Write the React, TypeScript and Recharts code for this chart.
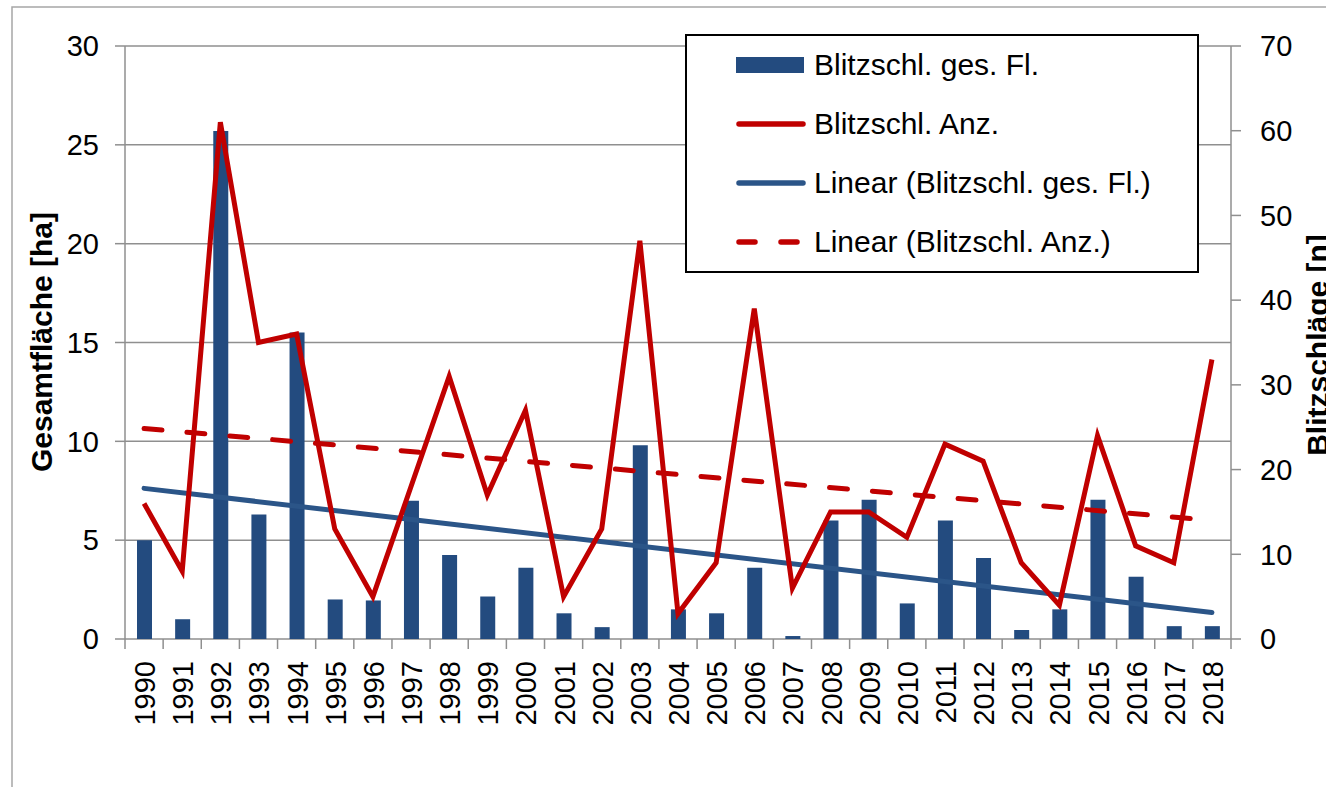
import {
  ComposedChart,
  Bar,
  Line,
  XAxis,
  YAxis,
  CartesianGrid,
  Legend,
} from "recharts";

const years = [
  "1990", "1991", "1992", "1993", "1994", "1995", "1996", "1997", "1998", "1999",
  "2000", "2001", "2002", "2003", "2004", "2005", "2006", "2007", "2008", "2009",
  "2010", "2011", "2012", "2013", "2014", "2015", "2016", "2017", "2018",
];

// Blitzschlag – Gesamtfläche [ha]
const flaeche = [
  5.0, 1.0, 25.7, 6.3, 15.5, 2.0, 1.95, 7.0, 4.25, 2.15,
  3.6, 1.3, 0.6, 9.8, 1.5, 1.3, 3.6, 0.15, 6.0, 7.05,
  1.8, 6.0, 4.1, 0.45, 1.5, 7.05, 3.15, 0.65, 0.65,
];

// Blitzschlag – Anzahl [n]
const anzahl = [
  16, 8, 61, 35, 36, 13, 5, 18, 31, 17,
  27, 5, 13, 47, 3, 9, 39, 6, 15, 15,
  12, 23, 21, 9, 4, 24, 11, 9, 33,
];

// Trendlinien: Endpunkte 1990 / 2018
const trendFlaeche = [7.62, 1.34];
const trendAnzahl = [24.84, 14.0];

const leftTicks = [0, 5, 10, 15, 20, 25, 30];
const rightTicks = [0, 10, 20, 30, 40, 50, 60, 70];

const legendItems = [
  { label: "Blitzschl. ges. Fl.", kind: "bar", color: "#234b7f" },
  { label: "Blitzschl. Anz.", kind: "line", color: "#c00000" },
  { label: "Linear (Blitzschl. ges. Fl.)", kind: "line", color: "#2b5588" },
  { label: "Linear (Blitzschl. Anz.)", kind: "dash", color: "#c00000" },
];

const last = years.length - 1;
const data = years.map((year, i) => ({
  year,
  fl: flaeche[i],
  anz: anzahl[i],
  trendFl: i === 0 ? trendFlaeche[0] : i === last ? trendFlaeche[1] : null,
  trendAnz: i === 0 ? trendAnzahl[0] : i === last ? trendAnzahl[1] : null,
}));

const FONT = "'Liberation Sans', Arial, sans-serif";
const GRID = "#8f8f8f";
const BAND = (1231 - 125) / years.length;

function YearTick(props: any) {
  const { x, y, payload } = props;
  const edge = x - BAND / 2;
  const tx = x + 11;
  const ty = y + 22;
  return (
    <g>
      <line x1={edge} y1={y} x2={edge} y2={y + 10} stroke={GRID} strokeWidth={1.5} />
      {payload.value === years[last] && (
        <line x1={x + BAND / 2} y1={y} x2={x + BAND / 2} y2={y + 10} stroke={GRID} strokeWidth={1.5} />
      )}
      <text
        x={tx}
        y={ty}
        transform={`rotate(-90 ${tx} ${ty})`}
        textAnchor="end"
        fontSize={29}
        fontFamily={FONT}
        fill="#000"
      >
        {payload.value}
      </text>
    </g>
  );
}

function LegendBox() {
  return (
    <div
      style={{
        width: 514,
        height: 239,
        boxSizing: "border-box",
        border: "2px solid #000",
        background: "#fff",
        position: "relative",
        fontFamily: FONT,
      }}
    >
      {legendItems.map((it, i) => (
        <div
          key={it.label}
          style={{
            position: "absolute",
            left: 49,
            top: 9 + i * 59,
            height: 40,
            display: "flex",
            alignItems: "center",
            whiteSpace: "nowrap",
          }}
        >
          <svg width={72} height={20}>
            {it.kind === "bar" && <rect x={0} y={2} width={68} height={16} fill={it.color} />}
            {it.kind === "line" && (
              <line x1={3} y1={10} x2={67} y2={10} stroke={it.color} strokeWidth={5.5} strokeLinecap="round" />
            )}
            {it.kind === "dash" && (
              <line
                x1={3}
                y1={10}
                x2={66}
                y2={10}
                stroke={it.color}
                strokeWidth={5.5}
                strokeLinecap="round"
                strokeDasharray="16 26"
              />
            )}
          </svg>
          <span style={{ marginLeft: 6, fontSize: 30, lineHeight: 1, color: "#000" }}>{it.label}</span>
        </div>
      ))}
    </div>
  );
}

export default function App() {
  return (
    <div style={{ position: "absolute", left: 0, top: 0, width: 1326, height: 787, background: "#fff", overflow: "hidden" }}>
      <svg width={1326} height={787} style={{ position: "absolute", left: 0, top: 0 }}>
        <rect x={12} y={7} width={1400} height={1000} fill="none" stroke="#a6a6a6" strokeWidth={1.5} />
      </svg>
      <div style={{ position: "absolute", left: 0, top: 0 }}>
        <ComposedChart
          width={1326}
          height={787}
          data={data}
          margin={{ top: 46, right: 0, bottom: 8, left: 0 }}
          barCategoryGap={0}
        >
          <CartesianGrid yAxisId="left" vertical={false} stroke={GRID} strokeWidth={1.5} />
          <XAxis
            dataKey="year"
            height={140}
            interval={0}
            tickSize={0}
            tickMargin={0}
            axisLine={false}
            tickLine={false}
            tick={<YearTick />}
          />
          <YAxis
            yAxisId="left"
            domain={[0, 30]}
            ticks={leftTicks}
            interval={0}
            width={125}
            tickSize={10}
            tickMargin={16}
            axisLine={{ stroke: GRID, strokeWidth: 1.5 }}
            tickLine={{ stroke: GRID, strokeWidth: 1.5 }}
            tick={{ fontSize: 29, fill: "#000", fontFamily: FONT }}
          />
          <YAxis
            yAxisId="right"
            orientation="right"
            domain={[0, 70]}
            ticks={rightTicks}
            interval={0}
            width={95}
            tickSize={10}
            tickMargin={19}
            axisLine={{ stroke: GRID, strokeWidth: 1.5 }}
            tickLine={{ stroke: GRID, strokeWidth: 1.5 }}
            tick={{ fontSize: 29, fill: "#000", fontFamily: FONT }}
          />
          <Legend
            layout="vertical"
            align="center"
            verticalAlign="middle"
            content={() => <LegendBox />}
            wrapperStyle={{ position: "absolute", left: 685, top: 34, width: 514, height: 239 }}
          />
          <Bar
            yAxisId="left"
            dataKey="fl"
            name="Blitzschl. ges. Fl."
            fill="#234b7f"
            barSize={15}
            isAnimationActive={false}
          />
          <Line
            yAxisId="left"
            dataKey="trendFl"
            name="Linear (Blitzschl. ges. Fl.)"
            type="linear"
            connectNulls
            stroke="#2b5588"
            strokeWidth={5}
            strokeLinecap="round"
            dot={false}
            activeDot={false}
            isAnimationActive={false}
          />
          <Line
            yAxisId="right"
            dataKey="trendAnz"
            name="Linear (Blitzschl. Anz.)"
            type="linear"
            connectNulls
            stroke="#c00000"
            strokeWidth={5}
            strokeLinecap="round"
            strokeDasharray="18 25"
            dot={false}
            activeDot={false}
            isAnimationActive={false}
          />
          <Line
            yAxisId="right"
            dataKey="anz"
            name="Blitzschl. Anz."
            type="linear"
            stroke="#c00000"
            strokeWidth={5}
            dot={false}
            activeDot={false}
            isAnimationActive={false}
          />
        </ComposedChart>
      </div>
      <svg width={1326} height={787} style={{ position: "absolute", left: 0, top: 0, pointerEvents: "none" }}>
        <text
          transform="translate(52 342) rotate(-90)"
          textAnchor="middle"
          fontSize={30}
          fontWeight="bold"
          fontFamily={FONT}
          fill="#000"
        >
          Gesamtfläche [ha]
        </text>
        <text
          transform="translate(1328 345) rotate(-90)"
          textAnchor="middle"
          fontSize={30}
          fontWeight="bold"
          fontFamily={FONT}
          fill="#000"
        >
          Blitzschläge [n]
        </text>
      </svg>
    </div>
  );
}
